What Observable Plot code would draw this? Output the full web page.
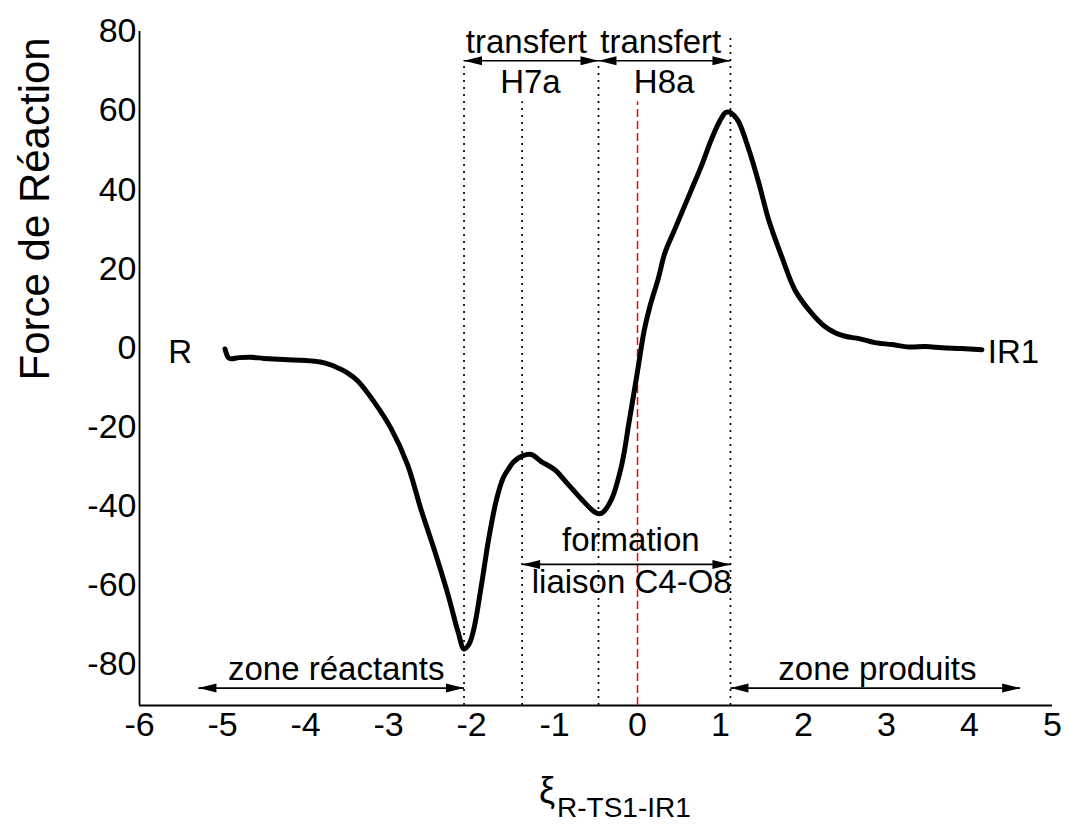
<!DOCTYPE html>
<html>
<head>
<meta charset="utf-8">
<script src="https://cdn.jsdelivr.net/npm/d3@7"></script>
<script src="https://cdn.jsdelivr.net/npm/@observablehq/plot@0.6"></script>
<style>
  body { margin: 0; background: #fff; }
  #chart svg { display: block; }
</style>
</head>
<body>
<div id="chart"></div>
<script>
// Reaction coordinate and reaction force
const xi = [-4.97, -4.93, -4.9, -4.8, -4.66, -4.5, -4.26, -4.0, -3.82, -3.7, -3.61, -3.5, -3.37, -3.18, -2.97, -2.77, -2.61, -2.45, -2.28, -2.16, -2.09, -2.03, -1.97, -1.88, -1.79, -1.70, -1.62, -1.55, -1.49, -1.38, -1.28, -1.16, -1.0, -0.83, -0.68, -0.52, -0.46, -0.41, -0.31, -0.19, -0.10, 0.0, 0.08, 0.15, 0.25, 0.33, 0.45, 0.55, 0.65, 0.77, 0.89, 0.99, 1.06, 1.11, 1.16, 1.22, 1.34, 1.46, 1.58, 1.74, 1.90, 2.10, 2.25, 2.38, 2.5, 2.67, 2.86, 3.07, 3.27, 3.47, 3.67, 3.9, 4.15];
const force = [-0.3, -2.5, -2.8, -2.5, -2.4, -2.7, -3.0, -3.2, -3.6, -4.3, -5.1, -6.3, -8.4, -13.5, -20.4, -29.6, -40.8, -51, -62.7, -72, -76.2, -75, -71, -60, -48, -38.5, -33, -30.5, -28.8, -27.3, -27, -28.8, -30.8, -34.7, -38.2, -41.5, -42, -41.5, -38.2, -29.6, -18.6, -6, 4.3, 10.5, 17.5, 24, 30, 35, 40, 46, 52.7, 57.3, 59.5, 59.6, 58.8, 57.1, 50.2, 41.8, 32.4, 22.9, 14.5, 8.7, 5.5, 3.8, 2.9, 2.3, 1.3, 0.8, 0.2, 0.3, 0, -0.2, -0.5];

// Dotted vertical markers (x position and top value)
const markerX = [-2.09, -1.39, -0.47, 1.12];
const markerTop = [72.6, 62.2, 72.6, 79.5];
// Red dashed line at the TS
const tsX = [0];
const tsTop = [62.2];

// Double-headed arrows
const arrowX1 = [-2.09, -0.47, -1.39, -5.29, 1.12];
const arrowX2 = [-0.47, 1.12, 1.12, -2.09, 4.61];
const arrowY = [72.6, 72.6, -54.8, -86.1, -86.1];

// Annotation texts
const labelText = ["transfert", "transfert", "H7a", "H8a", "formation", "liaison C4-O8", "zone réactants", "zone produits", "R", "IR1"];
const labelX = [-1.34, 0.28, -1.29, 0.32, -0.08, -0.07, -3.63, 2.89, -5.51, 4.53];
const labelY = [77.3, 77.3, 67, 67, -48.7, -59.4, -81.5, -81.5, -1.3, -1.3];

const xTicks = [-6, -5, -4, -3, -2, -1, 0, 1, 2, 3, 4, 5];
const yTicks = [-80, -60, -40, -20, 0, 20, 40, 60, 80];
const yMin = -90.5, yMax = 80;

const curve = xi.map((x, i) => ({x, y: force[i]}));
const markers = markerX.map((x, i) => ({x, top: markerTop[i]}));
const ts = tsX.map((x, i) => ({x, top: tsTop[i]}));
const arrows = arrowX1.map((x1, i) => ({x1, x2: arrowX2[i], y: arrowY[i]}));
const heads = arrows.flatMap(a => [{x: a.x1, y: a.y, r: 180}, {x: a.x2, y: a.y, r: 0}]);
const labels = labelText.map((t, i) => ({t, x: labelX[i], y: labelY[i]}));

const arrowHead = {
  draw(ctx) {
    ctx.moveTo(0, 0);
    ctx.lineTo(-18, -4.5);
    ctx.lineTo(-18, 4.5);
    ctx.closePath();
  }
};

const font = "'Liberation Sans', Arial, sans-serif";

const plot = Plot.plot({
  width: 1067,
  height: 825,
  marginLeft: 139,
  marginRight: 15,
  marginTop: 31,
  marginBottom: 120,
  style: {fontFamily: font, fontSize: "34px", color: "#000", background: "#fff"},
  x: {domain: [-6, 5]},
  y: {domain: [yMin, yMax]},
  marks: [
    Plot.axisX({ticks: xTicks, tickSize: 0, tickPadding: 6, label: null, tickFormat: d => String(d), fontSize: 34}),
    Plot.axisY({ticks: yTicks, tickSize: 0, tickPadding: 3, label: null, tickFormat: d => String(d), fontSize: 34}),
    Plot.ruleX([-6], {stroke: "#000", strokeWidth: 1.8}),
    Plot.ruleY([yMin], {stroke: "#000", strokeWidth: 1.8}),
    Plot.ruleX(markers, {x: "x", y1: yMin, y2: "top", stroke: "#000", strokeWidth: 1.7, strokeDasharray: "2,5"}),
    Plot.ruleX(ts, {x: "x", y1: yMin, y2: "top", stroke: "#ff0000", strokeWidth: 1.5, strokeDasharray: "8,4"}),
    Plot.line(curve, {x: "x", y: "y", stroke: "#000", strokeWidth: 5, curve: "catmull-rom", strokeLinejoin: "round", strokeLinecap: "round"}),
    Plot.link(arrows, {x1: "x1", x2: "x2", y1: "y", y2: "y", stroke: "#000", strokeWidth: 1.6}),
    Plot.dot(heads, {x: "x", y: "y", rotate: "r", symbol: arrowHead, fill: "#000", stroke: "none", r: 5}),
    Plot.text(labels, {x: "x", y: "y", text: "t", fontSize: 33, fill: "#000", lineAnchor: "middle"}),
    Plot.text(["Force de Réaction"], {frameAnchor: "left", text: d => d, rotate: -90, dx: -104, dy: 12, fontSize: 42, fill: "#000", lineAnchor: "middle"}),
    Plot.text(["ξ"], {frameAnchor: "bottom", text: d => d, dx: -49, dy: 86, fontSize: 36, fill: "#000", lineAnchor: "middle"}),
    Plot.text(["R-TS1-IR1"], {frameAnchor: "bottom", text: d => d, dx: -39, dy: 103, fontSize: 28, fill: "#000", textAnchor: "start", lineAnchor: "middle"})
  ]
});

document.getElementById("chart").appendChild(plot);
</script>
</body>
</html>
